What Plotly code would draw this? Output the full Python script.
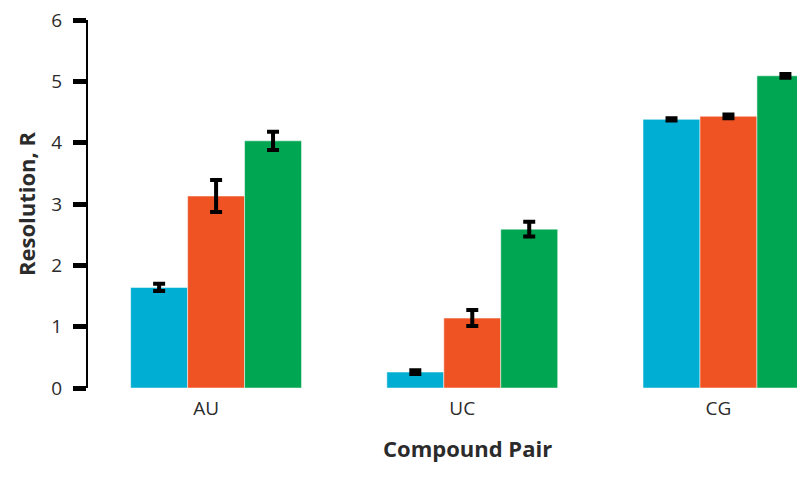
import plotly.graph_objects as go

categories = ["AU", "UC", "CG"]
series_names = ["Series 1", "Series 2", "Series 3"]
values_blue = [1.64, 0.26, 4.38]
values_red = [3.13, 1.14, 4.43]
values_green = [4.03, 2.59, 5.09]
err_blue = [0.06, 0.03, 0.02]
err_red = [0.26, 0.13, 0.03]
err_green = [0.15, 0.12, 0.03]
y_ticks = [0, 1, 2, 3, 4, 5, 6]

colors = ["#00AED4", "#F05323", "#00A651"]

fig = go.Figure()
for name, vals, errs, col in zip(series_names,
                                 [values_blue, values_red, values_green],
                                 [err_blue, err_red, err_green], colors):
    fig.add_trace(go.Bar(
        x=categories, y=vals, name=name,
        marker=dict(color=col, line=dict(color="rgba(255,255,255,0.5)", width=1)),
        error_y=dict(type="data", array=errs, visible=True,
                     color="black", thickness=4, width=6),
    ))

font_family = "'Open Sans', sans-serif"
txt = "#2b2b2b"

# page has an 8px body margin; figure coordinates are offset accordingly
fig.update_layout(
    width=805, height=488,
    margin=dict(l=80, r=0, t=12, b=108),
    barmode="group", bargap=0.333, bargroupgap=0,
    plot_bgcolor="white", paper_bgcolor="white",
    showlegend=False,
    font=dict(family=font_family, color=txt),
    xaxis=dict(
        range=[-0.5, 2.33],
        showline=False, showgrid=False, zeroline=False, ticks="",
        tickfont=dict(size=19, color=txt),
        ticklabelshift=-10, ticklabelstandoff=7,
    ),
    yaxis=dict(
        range=[0, 6], tickvals=y_ticks,
        showline=True, linecolor="black", linewidth=2,
        ticks="outside", ticklen=13, tickwidth=5, tickcolor="black",
        showgrid=False, zeroline=False,
        ticklabeloverflow="allow", ticklabelstandoff=7,
        tickfont=dict(size=19, color=txt),
        title=dict(text="<b>Resolution, R</b>", font=dict(size=22, color=txt), standoff=10),
    ),
)
plot_w = 805 - 80 - 0
plot_h = 488 - 12 - 108
fig.add_annotation(
    text="<b>Compound Pair</b>", xref="paper", yref="paper",
    x=(467 - 8 - 80) / plot_w, y=-(448 - 388) / plot_h,
    xanchor="center", yanchor="middle", showarrow=False,
    font=dict(size=22, color=txt),
)

fig.write_html("out.html")
